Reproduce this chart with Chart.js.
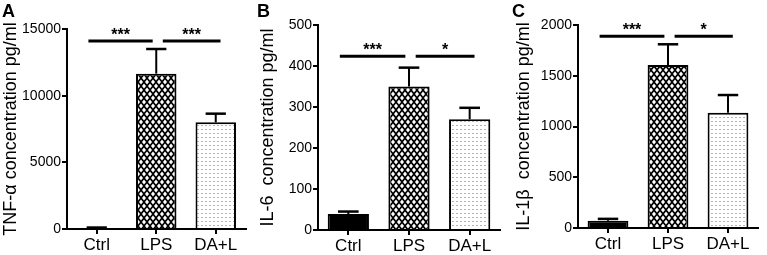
<!DOCTYPE html>
<html>
<head>
<meta charset="utf-8">
<script src="https://cdn.jsdelivr.net/npm/chart.js@4.4.1/dist/chart.umd.min.js"></script>
<style>
  html, body { margin: 0; padding: 0; background: #fff; }
  .panel { position: absolute; top: 0; height: 255px; }
</style>
</head>
<body>
<div class="panel" style="left:0;width:255px"><canvas id="cA"></canvas></div>
<div class="panel" style="left:255px;width:255px"><canvas id="cB"></canvas></div>
<div class="panel" style="left:510px;width:257px"><canvas id="cC"></canvas></div>
<script>
const groups = ['Ctrl', 'LPS', 'DA+L'];

const tnfMean = [80, 11650, 8000];
const tnfSem = [30, 1850, 650];
const tnfTicks = [0, 5000, 10000, 15000];

const il6Mean = [39, 350, 270];
const il6Sem = [6, 46, 28];
const il6Ticks = [0, 100, 200, 300, 400, 500];

const il1bMean = [72, 1605, 1135];
const il1bSem = [18, 205, 175];
const il1bTicks = [0, 500, 1000, 1500, 2000];

// comparison bars: [from group, to group, height, stars]
const tnfSig = [[0, 1, 14100, '***'], [1, 2, 14100, '***']];
const il6Sig = [[0, 1, 424, '***'], [1, 2, 424, '*']];
const il1bSig = [[0, 1, 1890, '***'], [1, 2, 1890, '*']];

const FONT = '"Liberation Sans", Arial, Helvetica, sans-serif';

function lpsPattern() {
  const c = document.createElement('canvas');
  c.width = 6; c.height = 8;
  const g = c.getContext('2d');
  g.fillStyle = '#000';
  g.fillRect(0, 0, 6, 8);
  g.fillStyle = '#fff';
  const dia = (cx, cy) => {
    g.beginPath();
    g.moveTo(cx, cy - 2.6); g.lineTo(cx + 2, cy); g.lineTo(cx, cy + 2.6); g.lineTo(cx - 2, cy);
    g.closePath(); g.fill();
  };
  dia(3, 2); dia(0, 6); dia(6, 6); dia(3, 10); dia(0, -2); dia(6, -2);
  return g.createPattern(c, 'repeat');
}

function dotPattern() {
  const c = document.createElement('canvas');
  c.width = 4; c.height = 4;
  const g = c.getContext('2d');
  g.fillStyle = '#fff';
  g.fillRect(0, 0, 4, 4);
  g.fillStyle = '#b4b4b4';
  g.fillRect(1, 1, 2, 1);
  return g.createPattern(c, 'repeat');
}

const extras = {
  id: 'extras',
  afterDatasetsDraw(chart, args, o) {
    const { ctx, scales: { x, y } } = chart;
    const meta = chart.getDatasetMeta(0);
    ctx.save();
    ctx.strokeStyle = '#000';
    // error bars (upper only)
    o.sem.forEach((s, i) => {
      const bar = meta.data[i];
      const top = y.getPixelForValue(o.mean[i] + s);
      const half = bar.width * 0.25;
      ctx.lineWidth = 2;
      ctx.beginPath(); ctx.moveTo(bar.x, bar.y); ctx.lineTo(bar.x, top); ctx.stroke();
      ctx.lineWidth = 2.5;
      ctx.beginPath(); ctx.moveTo(bar.x - half, top); ctx.lineTo(bar.x + half, top); ctx.stroke();
    });
    // significance lines
    ctx.fillStyle = '#000';
    ctx.font = 'bold 16px ' + FONT;
    ctx.textAlign = 'center';
    ctx.textBaseline = 'alphabetic';
    o.sig.forEach(([a, b, v, txt], k) => {
      const x0 = x.getPixelForValue(k === 0 ? a - 0.14 : a + 0.11);
      const x1 = x.getPixelForValue(k === 0 ? b - 0.06 : b + 0.08);
      const yy = y.getPixelForValue(v);
      ctx.lineWidth = 3;
      ctx.beginPath(); ctx.moveTo(x0, yy); ctx.lineTo(x1, yy); ctx.stroke();
      ctx.fillText(txt, (x0 + x1) / 2, yy - 1);
    });
    // panel letter
    ctx.font = 'bold 18px ' + FONT;
    ctx.textAlign = 'left';
    ctx.fillText(o.letter, 2, 17);
    ctx.restore();
  }
};

function makeChart(id, mean, sem, sig, ticks, title, letter, d) {
  const max = ticks[ticks.length - 1];
  new Chart(document.getElementById(id), {
    type: 'bar',
    data: {
      labels: groups,
      datasets: [{
        data: mean,
        backgroundColor: ['#000', lpsPattern(), dotPattern()],
        borderColor: '#000',
        borderWidth: 2,
        borderSkipped: 'bottom',
        categoryPercentage: 0.68,
        barPercentage: 1
      }]
    },
    options: {
      responsive: true,
      maintainAspectRatio: false,
      animation: false,
      layout: { padding: { top: d.top, right: d.right, left: 0, bottom: 0 } },
      plugins: {
        legend: { display: false },
        tooltip: { enabled: false },
        extras: { mean, sem, sig, letter }
      },
      scales: {
        x: {
          grid: { offset: false, drawOnChartArea: false, tickLength: 5, color: '#000', lineWidth: 2 },
          border: { color: '#000', width: 2 },
          ticks: { color: '#000', font: { size: 17, family: FONT }, padding: 1 },
          afterFit(s) { s.height = d.bottom; }
        },
        y: {
          min: 0, max: max,
          afterBuildTicks(s) { s.ticks = ticks.map(v => ({ value: v })); },
          ticks: { color: '#000', font: { size: 14, family: FONT }, padding: 1, callback: v => String(v) },
          grid: { drawOnChartArea: false, tickLength: 5, color: '#000', lineWidth: 2 },
          border: { color: '#000', width: 2 },
          title: { display: true, text: title, color: '#000', font: { size: 18, family: FONT }, padding: { top: d.tp, bottom: 0 } },
          afterFit(s) { s.width = d.left; }
        }
      }
    },
    plugins: [extras]
  });
}

makeChart('cA', tnfMean, tnfSem, tnfSig, tnfTicks, 'TNF-α concentration pg/ml', 'A',
  { left: 67, bottom: 26, top: 29, right: 9.5, tp: 0 });
makeChart('cB', il6Mean, il6Sem, il6Sig, il6Ticks, 'IL-6  concentration pg/ml', 'B',
  { left: 63, bottom: 25, top: 25, right: 10, tp: 2 });
makeChart('cC', il1bMean, il1bSem, il1bSig, il1bTicks, 'IL-1β  concentration pg/ml', 'C',
  { left: 68, bottom: 27, top: 25, right: 9, tp: 3 });
</script>
</body>
</html>
